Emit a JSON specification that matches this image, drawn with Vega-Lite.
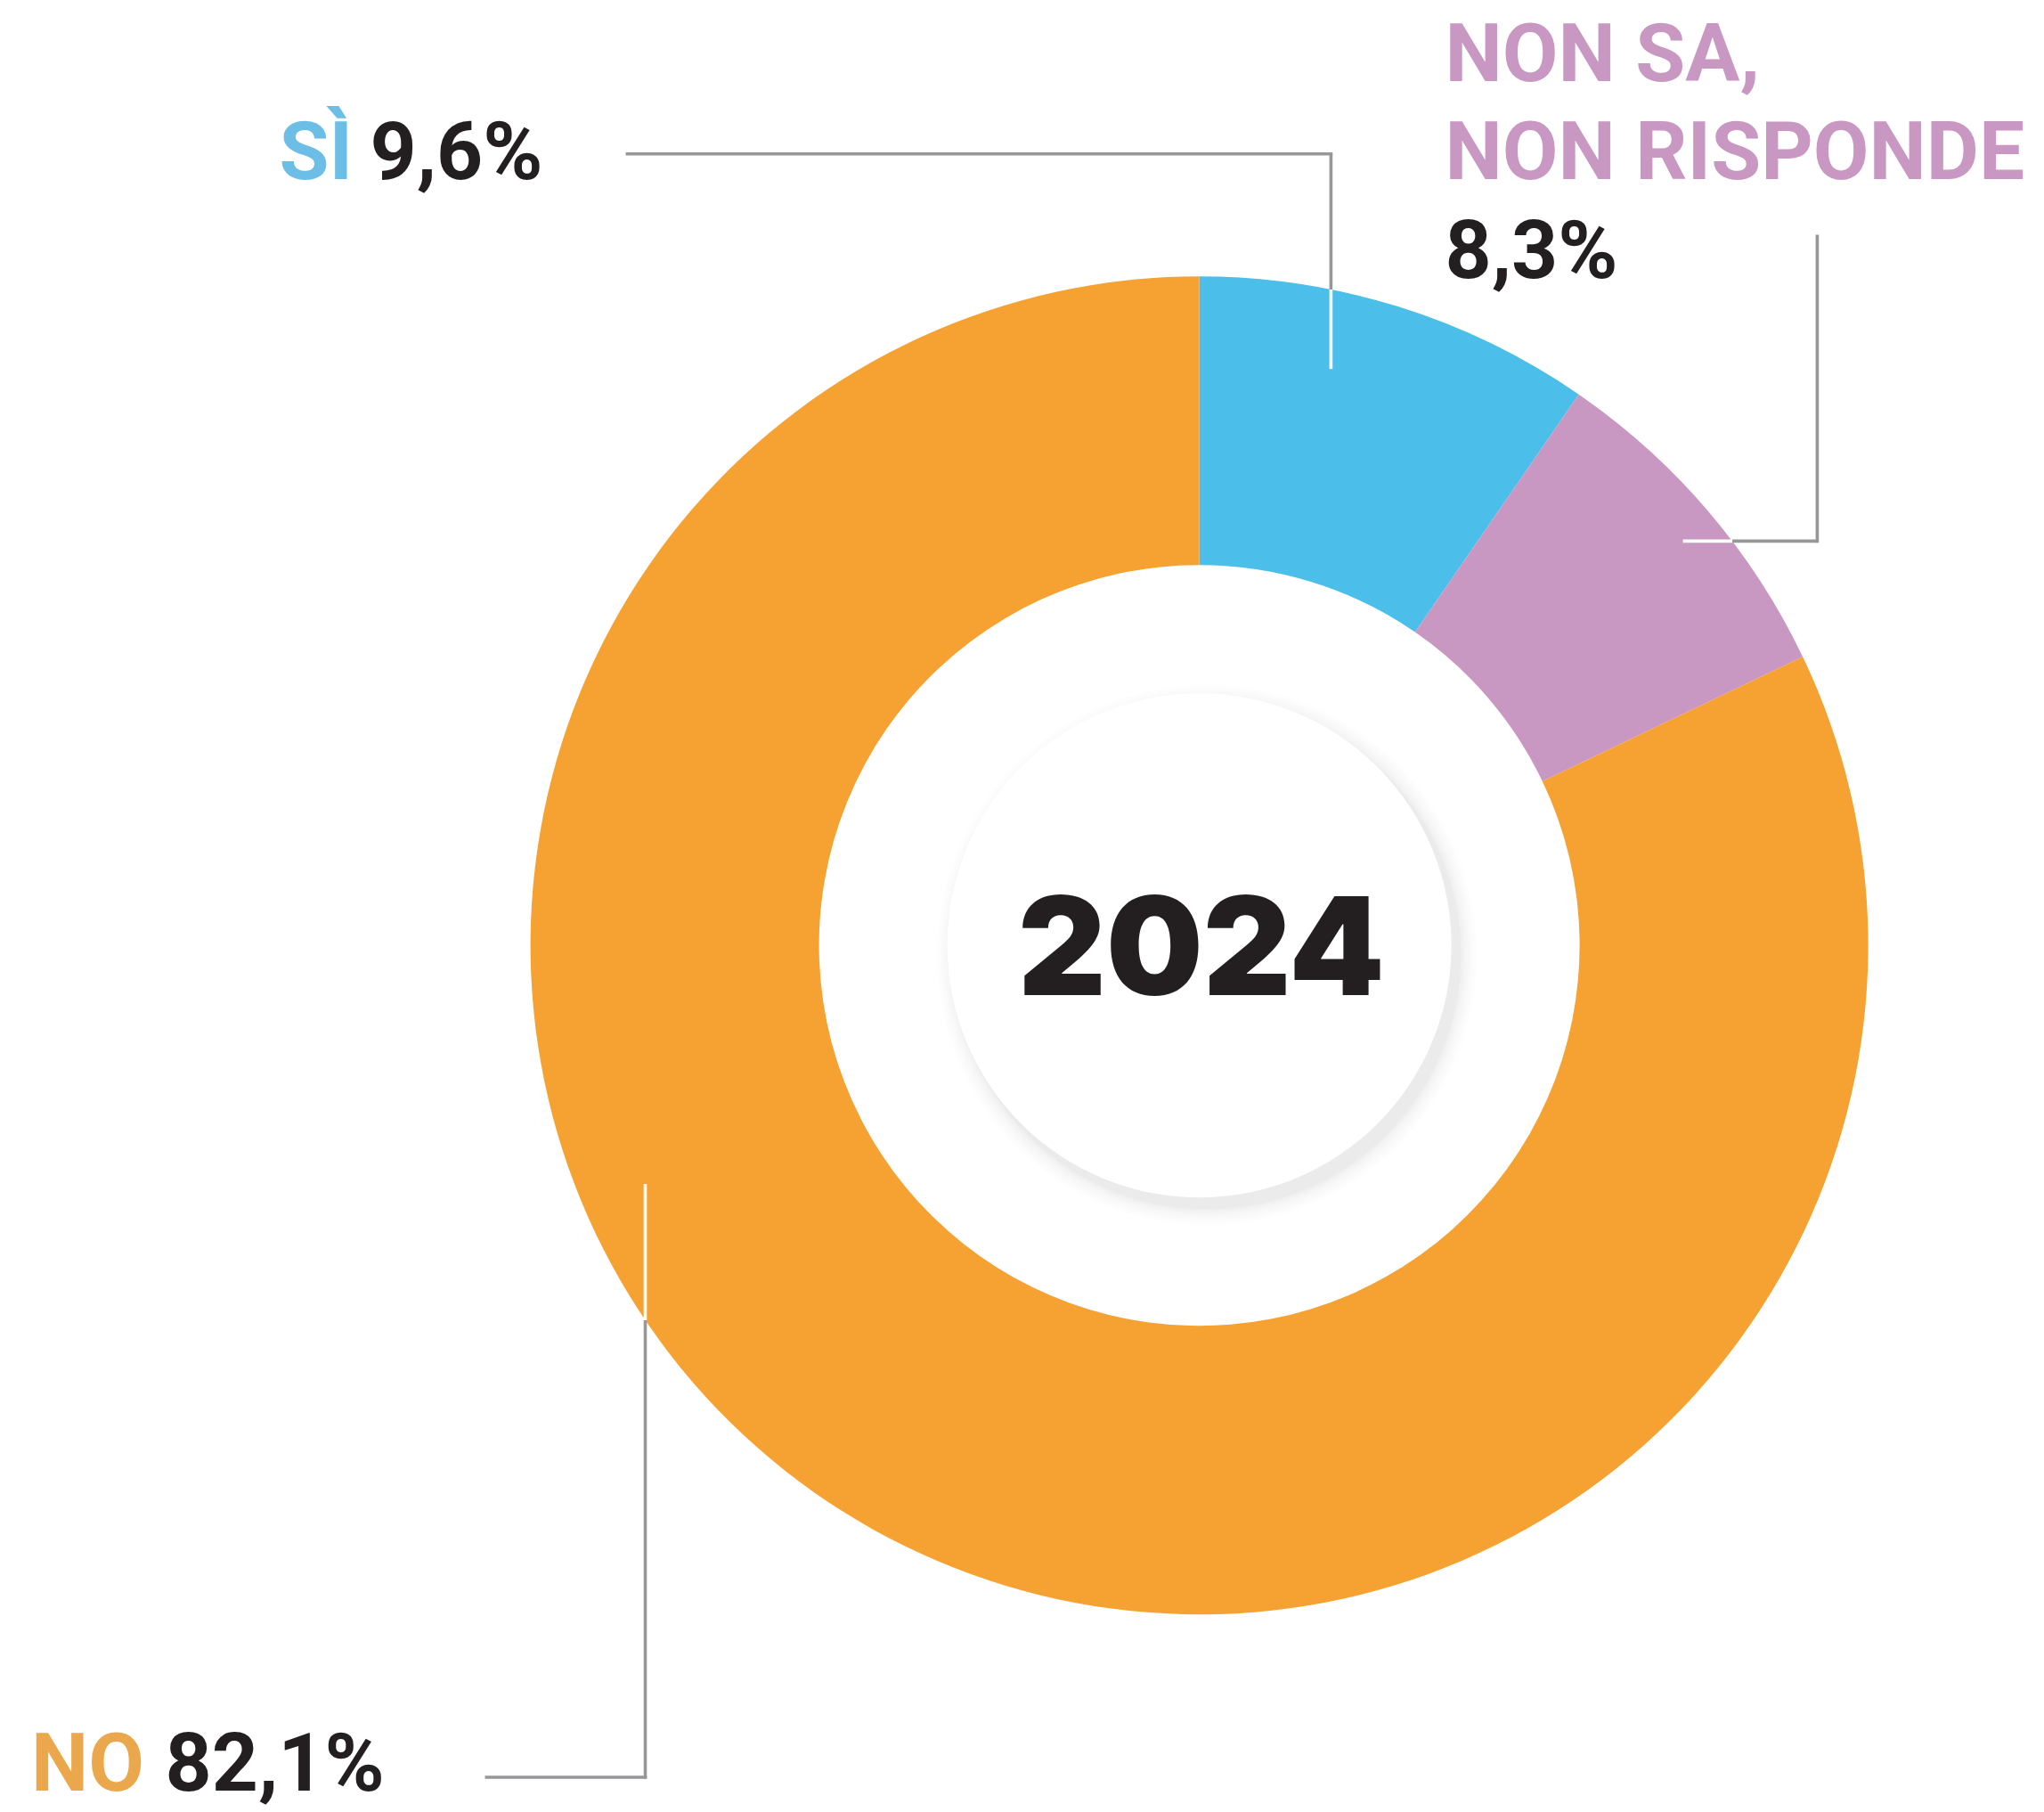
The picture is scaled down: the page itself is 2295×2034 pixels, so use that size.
{
  "$schema": "https://vega.github.io/schema/vega-lite/v6.json",
  "width": 2295,
  "height": 2034,
  "autosize": {"type": "fit", "contains": "padding"},
  "padding": 0,
  "background": "#ffffff",
  "config": {"view": {"stroke": null}},
  "data": {"values": [{"c": 1}]},
  "layer": [
    {
      "data": {"values": [
        {"cat": "Sì", "value": 9.6, "ord": 1},
        {"cat": "Non sa, non risponde", "value": 8.3, "ord": 2},
        {"cat": "No", "value": 82.1, "ord": 3}
      ]},
      "mark": {"type": "arc", "radius": 751, "radius2": 427, "strokeWidth": 0},
      "encoding": {
        "theta": {"field": "value", "type": "quantitative", "stack": true},
        "order": {"field": "ord", "type": "quantitative"},
        "color": {"field": "cat", "type": "nominal", "legend": null,
          "scale": {"domain": ["Sì", "Non sa, non risponde", "No"], "range": ["#4BBFEA", "#C897C2", "#F5A233"]}},
        "x": {"datum": 1346.6, "type": "quantitative", "scale": {"domain": [0, 2295], "nice": false, "zero": false}, "axis": null},
        "y": {"datum": 1061.2, "type": "quantitative", "scale": {"domain": [0, 2034], "nice": false, "zero": false, "reverse": true}, "axis": null}
      }
    },
    {
      "data": {"values": [
        {"ring": 1}, {"ring": 2}, {"ring": 3}, {"ring": 4}, {"ring": 5},
        {"ring": 6}, {"ring": 7}, {"ring": 8}, {"ring": 9}, {"ring": 10}
      ]},
      "mark": {"type": "point", "shape": "circle", "filled": true, "color": "#5c5c66", "opacity": 0.012, "strokeWidth": 0},
      "encoding": {
        "x": {"datum": 1355, "type": "quantitative", "scale": {"domain": [0, 2295], "nice": false, "zero": false}, "axis": null},
        "y": {"datum": 1072, "type": "quantitative", "scale": {"domain": [0, 2034], "nice": false, "zero": false, "reverse": true}, "axis": null},
        "size": {"field": "ring", "type": "quantitative", "legend": null,
          "scale": {"type": "pow", "exponent": 2, "zero": false, "domain": [1, 10], "range": [324900, 367236]}}
      }
    },
    {
      "mark": {"type": "point", "shape": "circle", "filled": true, "size": 320356, "color": "#ffffff", "opacity": 1, "strokeWidth": 0},
      "encoding": {
        "x": {"datum": 1346.6, "type": "quantitative", "scale": {"domain": [0, 2295], "nice": false, "zero": false}, "axis": null},
        "y": {"datum": 1061.2, "type": "quantitative", "scale": {"domain": [0, 2034], "nice": false, "zero": false, "reverse": true}, "axis": null}
      }
    },
    {
      "data": {"values": [
        {"seg": "si-h", "tone": "grey", "x": 702.6, "y": 172.7, "x2": 1496.2, "y2": 172.7},
        {"seg": "si-v", "tone": "grey", "x": 1494.4, "y": 172.7, "x2": 1494.4, "y2": 325},
        {"seg": "si-w", "tone": "white", "x": 1494.4, "y": 325, "x2": 1494.4, "y2": 414.2},
        {"seg": "ns-v", "tone": "grey", "x": 2040.4, "y": 263.5, "x2": 2040.4, "y2": 609.2},
        {"seg": "ns-h", "tone": "grey", "x": 2040.4, "y": 607.4, "x2": 1945, "y2": 607.4},
        {"seg": "ns-w", "tone": "white", "x": 1945, "y": 607.4, "x2": 1889.6, "y2": 607.4},
        {"seg": "no-h", "tone": "grey", "x": 544.5, "y": 1995, "x2": 726.3, "y2": 1995},
        {"seg": "no-v", "tone": "grey", "x": 724.5, "y": 1996.8, "x2": 724.5, "y2": 1482},
        {"seg": "no-w", "tone": "white", "x": 724.5, "y": 1482, "x2": 724.5, "y2": 1329}
      ]},
      "mark": {"type": "rule", "strokeWidth": 3.6, "strokeCap": "butt"},
      "encoding": {
        "x": {"field": "x", "type": "quantitative", "scale": {"domain": [0, 2295], "nice": false, "zero": false}, "axis": null},
        "y": {"field": "y", "type": "quantitative", "scale": {"domain": [0, 2034], "nice": false, "zero": false, "reverse": true}, "axis": null},
        "x2": {"field": "x2"},
        "y2": {"field": "y2"},
        "color": {"field": "tone", "type": "nominal", "legend": null,
          "scale": {"domain": ["grey", "white"], "range": ["#97979A", "#FFFFFF"]}}
      }
    },
    {
      "data": {"values": [
        {"t": "SÌ", "kind": "si", "x": 313.5, "y": 200.5},
        {"t": "9,6%", "kind": "val", "x": 415.5, "y": 200.5},
        {"t": "NON SA,", "kind": "nonsa", "x": 1622.5, "y": 90.7},
        {"t": "NON RISPONDE", "kind": "nonsa", "x": 1622.5, "y": 200.5},
        {"t": "8,3%", "kind": "val", "x": 1622.5, "y": 311.8},
        {"t": "NO", "kind": "no", "x": 35, "y": 2010},
        {"t": "82,1%", "kind": "val", "x": 185.5, "y": 2010}
      ]},
      "mark": {"type": "text", "font": "Roboto", "fontWeight": "bold", "fontSize": 91, "align": "left", "baseline": "alphabetic"},
      "encoding": {
        "x": {"field": "x", "type": "quantitative", "scale": {"domain": [0, 2295], "nice": false, "zero": false}, "axis": null},
        "y": {"field": "y", "type": "quantitative", "scale": {"domain": [0, 2034], "nice": false, "zero": false, "reverse": true}, "axis": null},
        "text": {"field": "t"},
        "color": {"field": "kind", "type": "nominal", "legend": null,
          "scale": {"domain": ["si", "nonsa", "no", "val"], "range": ["#6CBEE7", "#C897C2", "#EBA74B", "#231F20"]}}
      }
    },
    {
      "data": {"values": [{"t": "2024", "x": 1348.8, "y": 1116.8}]},
      "mark": {"type": "text", "font": "Inter", "fontWeight": 900, "fontSize": 153, "align": "center", "baseline": "alphabetic", "color": "#231F20"},
      "encoding": {
        "x": {"field": "x", "type": "quantitative", "scale": {"domain": [0, 2295], "nice": false, "zero": false}, "axis": null},
        "y": {"field": "y", "type": "quantitative", "scale": {"domain": [0, 2034], "nice": false, "zero": false, "reverse": true}, "axis": null},
        "text": {"field": "t"}
      }
    }
  ],
  "resolve": {"scale": {"color": "independent", "size": "independent"}}
}
